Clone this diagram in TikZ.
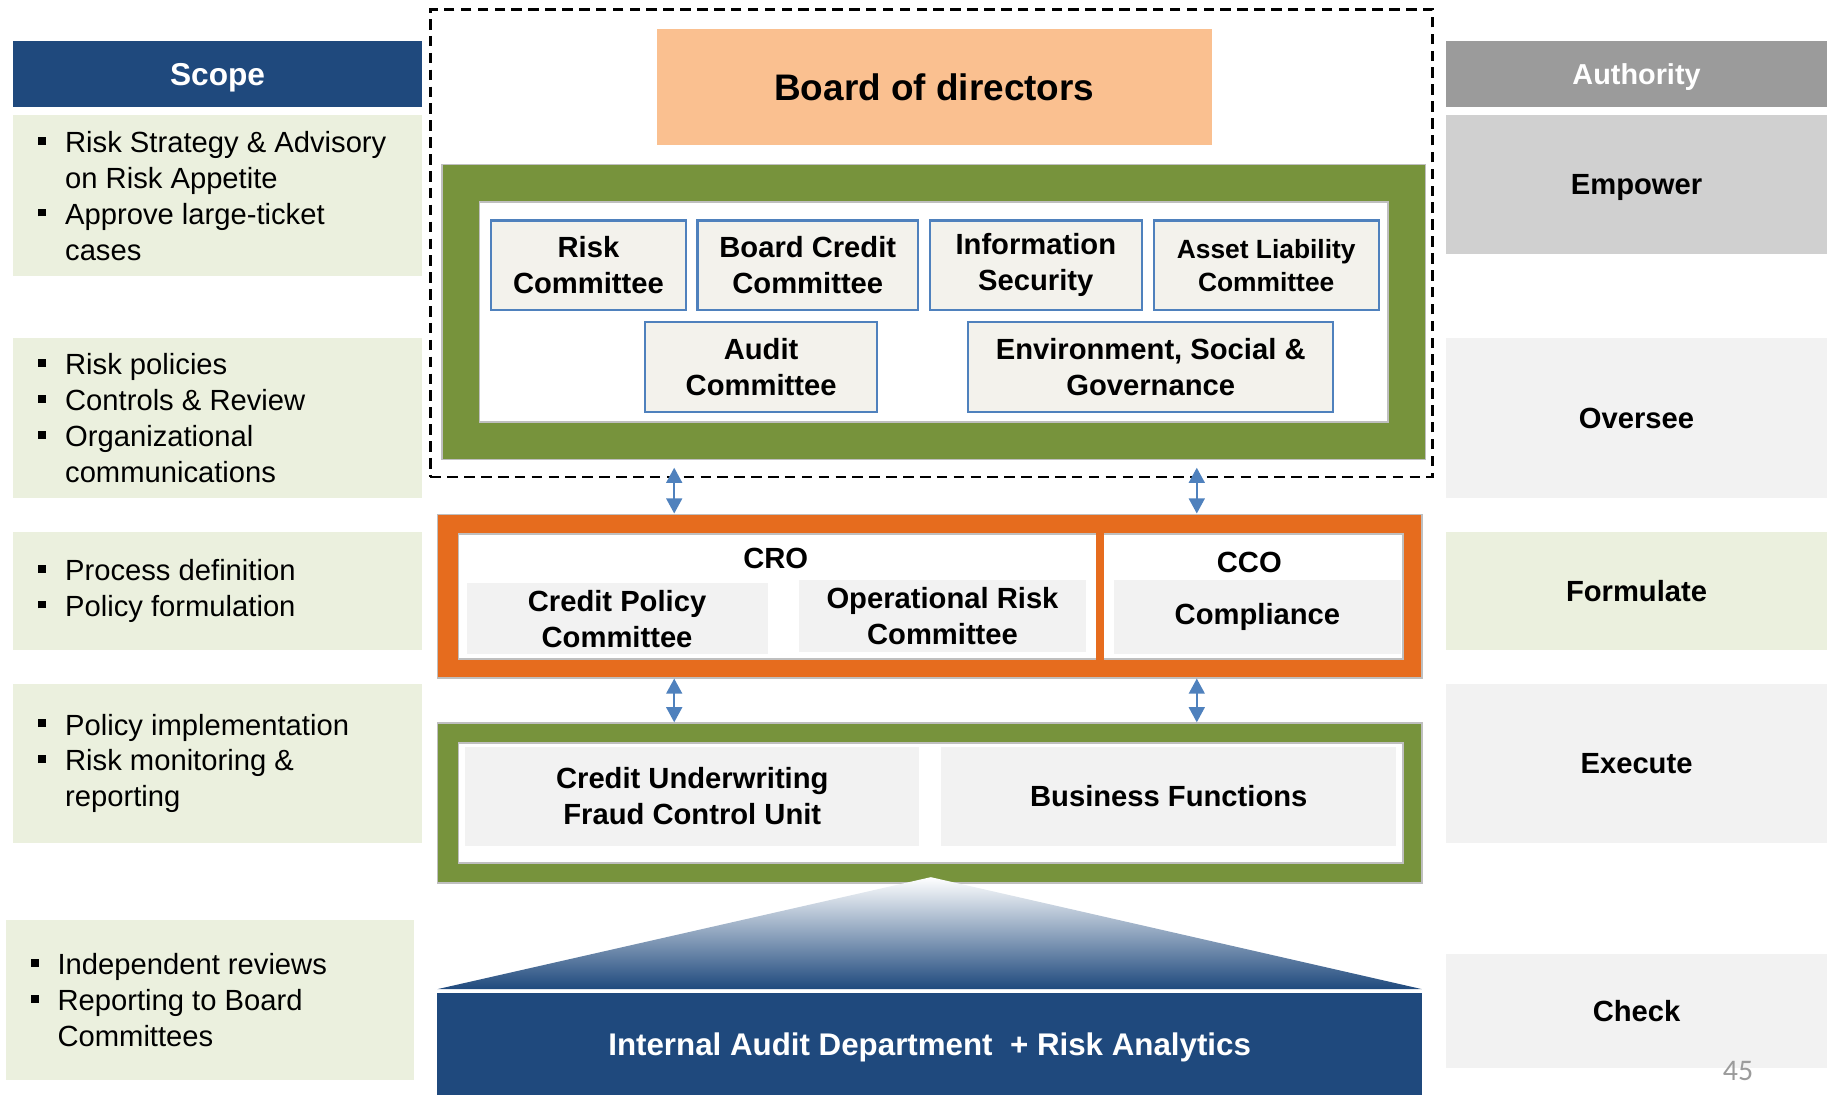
\documentclass[tikz,border=0pt]{standalone}
\usepackage{fontspec}
\setmainfont{Liberation Sans}
\newfontfamily\pagenumfont{Carlito}
\usepackage{tikz}
\usetikzlibrary{arrows.meta,fit,positioning}
\definecolor{navyblue}{HTML}{1F497D}
\definecolor{olivegreen}{HTML}{77933C}
\definecolor{deeporange}{HTML}{E66C1E}
\definecolor{paleolive}{HTML}{EBF0DE}
\definecolor{peach}{HTML}{FAC090}
\definecolor{linen}{HTML}{F3F2EC}
\definecolor{lightgrey}{HTML}{F2F2F2}
\definecolor{midgrey}{HTML}{D0D0D0}
\definecolor{darkgrey}{HTML}{9B9B9B}
\definecolor{edgeblue}{HTML}{4F81BD}
\definecolor{framegrey}{HTML}{BFBFBF}

\newcommand{\pxu}{0.011665cm}
\newcommand{\bodyfont}{\fontsize{8.3}{10.2}\selectfont}
\newcommand{\bulletitem}[1]{\par\noindent\hangindent=7.6pt\hangafter=1
  \makebox[7.6pt][l]{\rule[0.27em]{2.2pt}{2.2pt}}#1\par}
\newcommand{\bulletlist}[1]{\parbox{3.58cm}{\raggedright#1}}

\tikzset{
  boxsize/.style 2 args={minimum width=#1*\pxu, minimum height=#2*\pxu},
  headbox/.style={fill=#1, inner sep=0pt, text=white, text depth=0pt},
  scopebox/.style={fill=paleolive, inner sep=0pt, font=\bodyfont},
  authbox/.style={fill=#1, inner sep=0pt, text depth=0pt, font=\bodyfont\bfseries},
  framebox/.style={fill=#1, draw=framegrey, line width=0.5pt, inner sep=0pt},
  commbox/.style={fill=linen, draw=edgeblue, line width=0.6pt, inner sep=0pt, align=center, font=\bodyfont\bfseries},
  unitbox/.style={fill=lightgrey, inner sep=0pt, align=center, font=\bodyfont\bfseries},
  dblarrow/.style={draw=edgeblue, line width=0.6pt, {Triangle[length=4.3pt,width=4.5pt]}-{Triangle[length=4.3pt,width=4.5pt]}},
}

\begin{document}
\begin{tikzpicture}[x=\pxu, y=-\pxu]
\useasboundingbox (0,0) rectangle (1568,939);

% Scope column on the left
\node[headbox=navyblue, boxsize={351}{57}, font=\fontsize{9}{11}\selectfont\bfseries] (scopehead) at (186.5,63.5) {Scope};
\node[scopebox, boxsize={351}{138}] (scopeA) at (186.5,168) {\bulletlist{\bulletitem{Risk Strategy \& Advisory\newline on Risk Appetite}\bulletitem{Approve large-ticket\newline cases}}};
\node[scopebox, boxsize={351}{137}] (scopeB) at (186.5,358.5) {\bulletlist{\bulletitem{Risk policies}\bulletitem{Controls \& Review}\bulletitem{Organizational\newline communications}}};
\node[scopebox, boxsize={351}{101}] (scopeC) at (186.5,506.5) {\bulletlist{\bulletitem{Process definition}\bulletitem{Policy formulation}}};
\node[scopebox, boxsize={351}{137}] (scopeD) at (186.5,654.5) {\bulletlist{\bulletitem{Policy implementation}\bulletitem{Risk monitoring \&\newline reporting}}};
\node[scopebox, boxsize={350}{137}] (scopeE) at (180,857.5) {\bulletlist{\bulletitem{Independent reviews}\bulletitem{Reporting to Board\newline Committees}}};

% Authority column on the right
\node[headbox=darkgrey, boxsize={326}{57}, font=\fontsize{8.2}{10}\selectfont\bfseries] (authhead) at (1403,63.5) {Authority};
\node[authbox=midgrey, boxsize={326}{119}] (empower) at (1403,158.5) {Empower};
\node[authbox=lightgrey, boxsize={326}{137}] (oversee) at (1403,358.5) {Oversee};
\node[authbox=paleolive, boxsize={326}{101}] (formulate) at (1403,506.5) {Formulate};
\node[authbox=lightgrey, boxsize={326}{137}] (execute) at (1403,654.5) {Execute};
\node[authbox=lightgrey, boxsize={326}{98}] (check) at (1403,867) {Check};

% Board level inside the dashed zone
\node[draw, line width=0.7pt, dash pattern=on 3pt off 1.8pt, inner sep=0pt, fit={(369,8) (1228,409)}] (boardzone) {};
\node[fill=peach, inner sep=0pt, boxsize={476}{99}, font=\fontsize{10.5}{12.6}\selectfont\bfseries] (board) at (801,74.5) {Board of directors};
\node[framebox=olivegreen, fit={(379,141) (1222,394)}] (boardcom) {};
\node[framebox=white, fit={(411,173) (1190,362)}] (boardin) {};
\node[commbox, boxsize={167}{77}] (riskcom) at (504.5,227.5) {Risk\\Committee};
\node[commbox, boxsize={189}{77}] (creditcom) at (692.5,227.5) {Board Credit\\Committee};
\node[commbox, boxsize={182}{77}] (infosec) at (888,227.5) {Information\\Security};
\node[commbox, boxsize={193}{77}, font=\fontsize{7.5}{9.3}\selectfont\bfseries] (alco) at (1085.5,227.5) {Asset Liability\\Committee};
\node[commbox, boxsize={199}{77}] (auditcom) at (652.5,314.5) {Audit\\Committee};
\node[commbox, boxsize={313}{77}] (esg) at (986.5,314.5) {Environment, Social \&\\Governance};

% Management level
\node[framebox=deeporange, fit={(375,441) (1219,581)}] (mgmt) {};
\node[framebox=white, fit={(393,458) (1203,565)}] (mgmtin) {};
\draw[deeporange, line width=2.2pt] (mgmtin.north -| 943,0) -- (mgmtin.south -| 943,0);
\node[font=\bodyfont\bfseries] (crolabel) at (665,479) {CRO};
\node[font=\bodyfont\bfseries] (ccolabel) at (1071,482) {CCO};
\node[unitbox, boxsize={258}{61}] (cpc) at (529,530.5) {Credit Policy\\Committee};
\node[unitbox, boxsize={246}{62}] (orc) at (808,528) {Operational Risk\\Committee};
\node[unitbox, boxsize={246}{64}] (compliance) at (1078,529) {Compliance};

% Operating level
\node[framebox=olivegreen, fit={(375,620) (1219,757)}] (ops) {};
\node[framebox=white, fit={(393,637) (1203,740)}] (opsin) {};
\node[unitbox, boxsize={389}{85}] (underwriting) at (593.5,682.5) {Credit Underwriting\\Fraud Control Unit};
\node[unitbox, boxsize={390}{85}] (business) at (1002,682.5) {Business Functions};

% Arrows between the levels
\coordinate (linkL) at (578,401);
\coordinate (linkR) at (1026,401);
\draw[dblarrow] (linkL) -- (mgmt.north -| linkL);
\draw[dblarrow] (linkR) -- (mgmt.north -| linkR);
\draw[dblarrow] (mgmt.south -| linkL) -- (ops.north -| linkL);
\draw[dblarrow] (mgmt.south -| linkR) -- (ops.north -| linkR);

% Independent check at the base
\shade[top color=white, bottom color=navyblue] (798,752) -- (1219,848) -- (375,848) -- cycle;
\node[fill=navyblue, inner sep=0pt, boxsize={844}{88}, text=white, text depth=0pt, font=\fontsize{8.9}{10.7}\selectfont\bfseries] (iad) at (797,895) {Internal Audit Department\ \ + Risk Analytics};

\node[text=darkgrey, font=\pagenumfont\fontsize{8.5}{10}\selectfont] (pagenum) at (1490,918) {45};
\end{tikzpicture}
\end{document}
